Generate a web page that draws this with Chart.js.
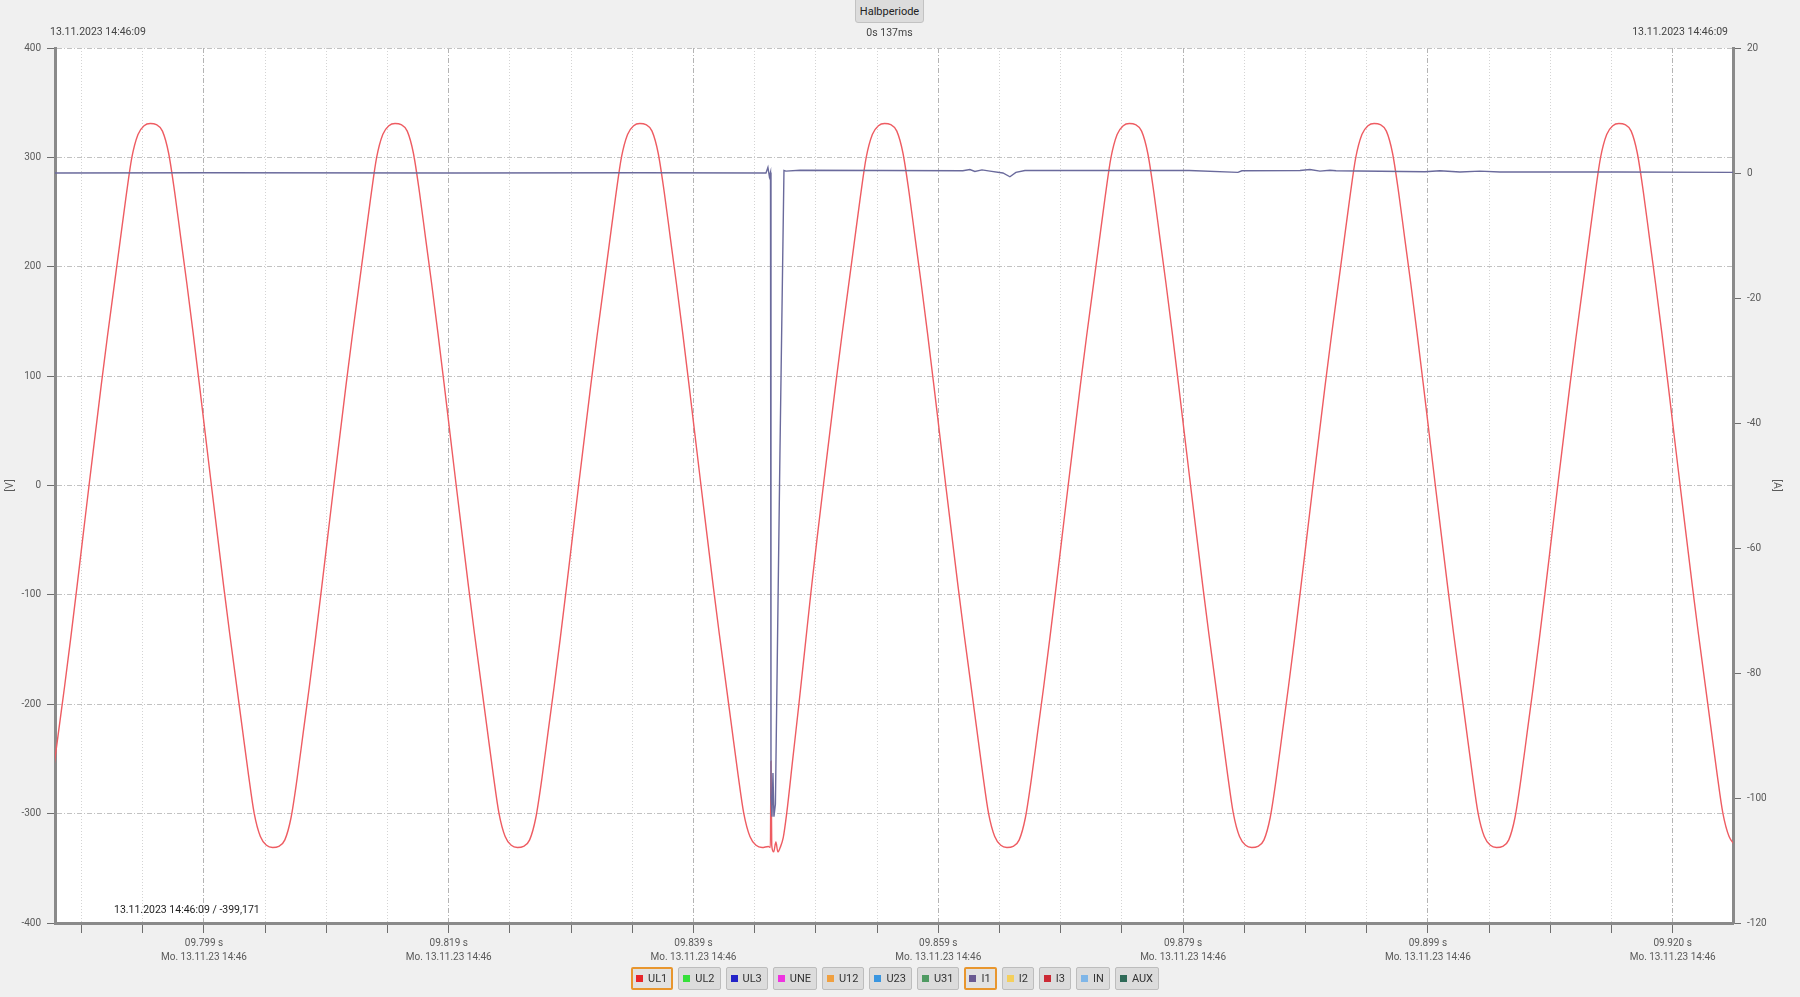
<!DOCTYPE html>
<html>
<head>
<meta charset="utf-8">
<script src="https://cdn.jsdelivr.net/npm/chart.js@4.4.1/dist/chart.umd.min.js"></script>
<style>
  html, body { margin: 0; padding: 0; background: #f0f0f0; }
  body { width: 1800px; height: 997px; position: relative; overflow: hidden;
         font-family: Roboto, "Noto Sans", sans-serif; color: #444; }
  #chart { position: absolute; left: 0; top: 0; }
  .txt { position: absolute; font-size: 10.5px; line-height: 14px; white-space: nowrap; }
  #stamp-left { left: 50px; top: 25px; }
  #stamp-right { right: 72px; top: 25px; }
  #half-btn { position: absolute; left: 855px; top: -3px; width: 69px; height: 26px; box-sizing: border-box;
              background: #dcdcdc; border: 1px solid #c2c2c2; border-radius: 3px;
              font-size: 11px; color: #222; text-align: center; line-height: 28px; }
  #half-val { left: 855px; width: 69px; text-align: center; top: 26px; }
  #cursor { left: 114px; top: 903px; color: #1e1e1e; }
  #legend { position: absolute; left: 631px; top: 967px; display: flex; gap: 5px; }
  .chan { height: 23px; box-sizing: border-box; display: flex; align-items: center; padding: 0 5px 0 4px;
          background: #dcdcdc; border: 1px solid #bdbdbd; border-radius: 2px; font-size: 11px; color: #333; }
  .chan.on { border: 2px solid #e8962e; padding: 0 4px 0 3px; background: #e2e2e2; }
  .chan i { display: inline-block; width: 7px; height: 7px; margin-right: 5px; }
</style>
</head>
<body>
<canvas id="chart" width="1800" height="997"></canvas>
<div class="txt" id="stamp-left">13.11.2023 14:46:09</div>
<div class="txt" id="stamp-right">13.11.2023 14:46:09</div>
<div id="half-btn">Halbperiode</div>
<div class="txt" id="half-val">0s 137ms</div>
<div class="txt" id="cursor">13.11.2023 14:46:09 / -399,171</div>
<div id="legend"></div>
<script>
// time axis in ms
const xMin = 9787.33;
const xMax = 9924.43;
const xTickFirst = 9789.5;
const xTickStep = 5;
const xMajorTimes = [9799.5, 9819.5, 9839.5, 9859.5, 9879.5, 9899.5, 9919.5];
const xMajorLabels = ["09.799 s", "09.819 s", "09.839 s", "09.859 s", "09.879 s", "09.899 s", "09.920 s"];
const xDateLabel = "Mo. 13.11.23 14:46";

// UL1 [V], sampled every 0.5 ms from ul1Start
const ul1Start = 9787.11;
const ul1Step = 0.5;
const ul1Volts = [
  -268, -226, -184, -140, -94, -47,
  0, 46, 92, 136, 178, 220, 262, 300, 321, 329, 331, 330, 324, 304, 268, 226, 184, 140, 94, 47,
  0, -46, -92, -136, -178, -220, -262, -300, -321, -329, -331, -330, -324, -304, -268, -226, -184, -140, -94, -47,
  0, 46, 92, 136, 178, 220, 262, 300, 321, 329, 331, 330, 324, 304, 268, 226, 184, 140, 94, 47,
  0, -46, -92, -136, -178, -220, -262, -300, -321, -329, -331, -330, -324, -304, -268, -226, -184, -140, -94, -47,
  0, 46, 92, 136, 178, 220, 262, 300, 321, 329, 331, 330, 324, 304, 268, 226, 184, 140, 94, 47,
  0, -46, -92, -136, -178, -220, -262, -300, -321, -329, -331, -330, null, null, -300, -250, -200, -148, -96, -47,
  0, 46, 92, 136, 178, 220, 262, 300, 321, 329, 331, 330, 324, 304, 268, 226, 184, 140, 94, 47,
  0, -46, -92, -136, -178, -220, -262, -300, -321, -329, -331, -330, -324, -304, -268, -226, -184, -140, -94, -47,
  0, 46, 92, 136, 178, 220, 262, 300, 321, 329, 331, 330, 324, 304, 268, 226, 184, 140, 94, 47,
  0, -46, -92, -136, -178, -220, -262, -300, -321, -329, -331, -330, -324, -304, -268, -226, -184, -140, -94, -47,
  0, 46, 92, 136, 178, 220, 262, 300, 321, 329, 331, 330, 324, 304, 268, 226, 184, 140, 94, 47,
  0, -46, -92, -136, -178, -220, -262, -300, -321, -329, -331, -330, -324, -304, -268, -226, -184, -140, -94, -47,
  0, 46, 92, 136, 178, 220, 262, 300, 321, 329, 331, 330, 324, 304, 268, 226, 184, 140, 94, 47,
  0, -46, -92, -136, -178, -220, -262, -300, -321, -329
];
// UL1 disturbance in the third trough
const ul1EventTime = [9845.78, 9845.83, 9845.89, 9846.05, 9846.23, 9846.39, 9846.58, 9846.83];
const ul1EventVolt = [-331, -252, -329, -335, -326, -335, -331, -322];

// I1 [A]
const i1Time = [
  9787.0, 9800.0, 9820.0, 9835.0, 9845.42, 9845.58, 9845.70, 9845.79, 9845.83, 9845.91, 9845.99,
  9846.07, 9846.19, 9846.56, 9846.89, 9847.05, 9848.2, 9855.0, 9861.5, 9862.08, 9862.49, 9863.07,
  9863.72, 9864.78, 9865.35, 9865.84, 9866.58, 9872.0, 9880.0, 9883.98, 9884.3, 9889.05, 9889.86,
  9890.68, 9891.5, 9892.0, 9899.26, 9900.48, 9902.12, 9903.75, 9905.39, 9915.0, 9925.0
];
const i1Amp = [
  0.0, 0.05, 0.0, 0.05, 0.0, 0.9, -0.6, 0.1, -100, -103, -96,
  -103, -101, -45, 0.4, 0.3, 0.45, 0.4, 0.35, 0.55, 0.25, 0.5,
  0.3, 0.0, -0.6, 0.1, 0.4, 0.4, 0.4, 0.1, 0.35, 0.4, 0.55,
  0.3, 0.45, 0.35, 0.2, 0.35, 0.15, 0.3, 0.15, 0.15, 0.1
];

// channel buttons
const channelNames = ["UL1", "UL2", "UL3", "UNE", "U12", "U23", "U31", "I1", "I2", "I3", "IN", "AUX"];
const channelColors = ["#e8262b", "#35e03a", "#2323c8", "#ee33e0", "#f0a040", "#3a96e0", "#4f9a62",
                       "#6a5a92", "#f4cf5c", "#cc2a35", "#7fb6e8", "#2f6a58"];
const activeChannels = ["UL1", "I1"];

const legend = document.getElementById("legend");
channelNames.forEach((name, i) => {
  const b = document.createElement("div");
  b.className = "chan" + (activeChannels.includes(name) ? " on" : "");
  b.innerHTML = '<i style="background:' + channelColors[i] + '"></i>' + name;
  legend.appendChild(b);
});

const ul1Points = [];
ul1Volts.forEach((v, k) => {
  if (v !== null) ul1Points.push({ x: ul1Start + k * ul1Step, y: v });
});
ul1EventTime.forEach((t, i) => ul1Points.push({ x: t, y: ul1EventVolt[i] }));
ul1Points.sort((a, b) => a.x - b.x);

const i1Points = i1Time.map((t, i) => ({ x: t, y: i1Amp[i] }));

function majorIndex(v) {
  return xMajorTimes.findIndex((m) => Math.abs(m - v) < 0.01);
}

const plotBackground = {
  id: "plotBackground",
  beforeDraw(chart) {
    const { ctx, chartArea: a } = chart;
    ctx.save();
    ctx.fillStyle = "#ffffff";
    ctx.fillRect(a.left, a.top, a.right - a.left, a.bottom - a.top);
    ctx.restore();
  }
};

Chart.defaults.font.family = "Roboto, 'Noto Sans', sans-serif";
Chart.defaults.font.size = 10;
Chart.defaults.color = "#5a5a5a";

new Chart(document.getElementById("chart").getContext("2d"), {
  type: "line",
  data: {
    datasets: [
      {
        label: "I1",
        data: i1Points,
        yAxisID: "y1",
        borderColor: "#6a6a9c",
        borderWidth: 1.4,
        pointRadius: 0,
        tension: 0
      },
      {
        label: "UL1",
        data: ul1Points,
        yAxisID: "y",
        borderColor: "#ee5c62",
        borderWidth: 1.4,
        pointRadius: 0,
        cubicInterpolationMode: "monotone"
      }
    ]
  },
  options: {
    responsive: false,
    animation: false,
    locale: "en-US",
    layout: { padding: { top: 48, left: 0, right: 0, bottom: 0 } },
    plugins: { legend: { display: false }, tooltip: { enabled: false } },
    scales: {
      x: {
        type: "linear",
        min: xMin,
        max: xMax,
        afterBuildTicks: (scale) => {
          const t = [];
          for (let v = xTickFirst; v <= xMax; v += xTickStep) t.push({ value: +v.toFixed(2) });
          scale.ticks = t;
        },
        afterFit: (scale) => { scale.height = 74; },
        ticks: {
          autoSkip: false,
          maxRotation: 0,
          padding: 3,
          font: { size: 10, lineHeight: 1.4 },
          callback: (value) => {
            const i = majorIndex(value);
            return i < 0 ? "" : [xMajorLabels[i], xDateLabel];
          }
        },
        grid: {
          color: (c) => (c.tick && majorIndex(c.tick.value) >= 0 ? "#b4b4b4" : "#d4d4d4"),
          lineWidth: 1,
          tickLength: 10,
          tickColor: "#6e6e6e",
          tickBorderDash: []
        },
        border: {
          color: "#8a8a8a",
          width: 3,
          dash: (c) => (c.tick && majorIndex(c.tick.value) >= 0 ? [5, 2, 1, 2] : [1, 2])
        }
      },
      y: {
        position: "left",
        min: -400,
        max: 400,
        afterFit: (scale) => { scale.width = 55; },
        ticks: { stepSize: 100, padding: 6 },
        grid: { color: "#c2c2c2", tickLength: 8, tickColor: "#6e6e6e", tickBorderDash: [] },
        border: { color: "#8a8a8a", width: 3, dash: [5, 2, 1, 2] },
        title: { display: true, text: "[V]", padding: { top: 4, bottom: 0 }, font: { size: 10.5 } }
      },
      y1: {
        position: "right",
        min: -120,
        max: 20,
        afterFit: (scale) => { scale.width = 67; },
        ticks: { stepSize: 20, padding: 6 },
        grid: { drawOnChartArea: false, tickLength: 8, tickColor: "#6e6e6e" },
        border: { color: "#8a8a8a", width: 3 },
        title: { display: true, text: "[A]", padding: { top: 17, bottom: 0 }, font: { size: 10.5 } }
      }
    }
  },
  plugins: [plotBackground]
});
</script>
</body>
</html>
